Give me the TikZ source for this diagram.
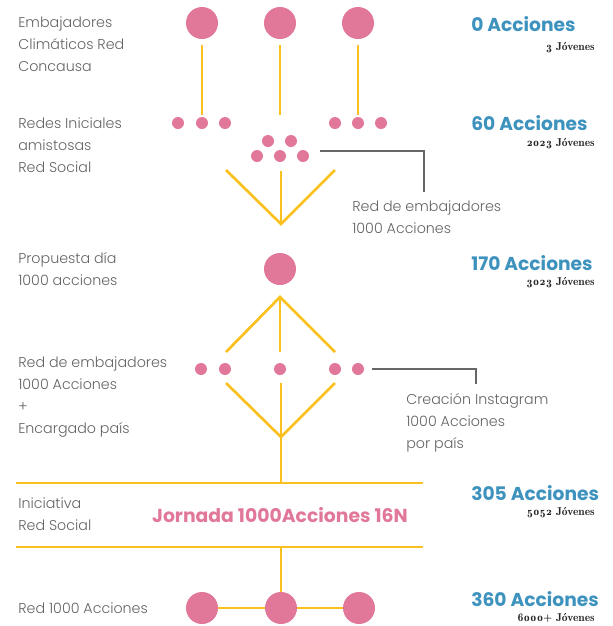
\documentclass[tikz,border=0pt]{standalone}
\usepackage{fontspec}
\newfontfamily\lightfont{Poppins}[UprightFont=* Light]
\newfontfamily\heavyfont{Poppins}[UprightFont=* Bold]
\newfontfamily\oldfont{lmromandemi10-regular.otf}[Numbers=OldStyle]
\usetikzlibrary{positioning}
\usetikzlibrary{calc}

\definecolor{dotpink}{RGB}{225,119,153}
\definecolor{lineyellow}{RGB}{250,192,30}
\definecolor{countblue}{RGB}{62,146,190}
\definecolor{textgray}{RGB}{100,100,100}

\begin{document}
\begin{tikzpicture}[
  x=0.75pt, y=-0.75pt,
  bigdot/.style={circle, fill=dotpink, minimum size=24pt, inner sep=0pt},
  smalldot/.style={circle, fill=dotpink, minimum size=9pt, inner sep=0pt},
  yline/.style={draw=lineyellow, line width=2pt},
  gline/.style={draw=black!60, line width=0.8pt},
  stage/.style={font=\lightfont\fontsize{10.7}{16.5}\selectfont, text=textgray, anchor=west, align=left, inner sep=0pt},
  count/.style={font=\heavyfont\fontsize{14}{16}\selectfont, text=countblue, anchor=west, inner sep=0pt},
  people/.style={font=\oldfont\fontsize{8.6}{10}\selectfont, text=black!85, anchor=east, inner sep=0pt}
]
\useasboundingbox (0,0) rectangle (613,626);

% Left side stages
\node[stage] (s1) at (18, 44) {Embajadores\\Climáticos Red\\Concausa};
\node[stage] (s2) at (18, 145) {Redes Iniciales\\amistosas\\Red Social};
\node[stage] (s3) at (18, 269) {Propuesta día\\1000 acciones};
\node[stage] (s4) at (18, 397) {Red de embajadores\\1000 Acciones\\+\\Encargado país};
\node[stage] (s5) at (18, 514) {Iniciativa\\Red Social};
\node[stage] (s6) at (18, 608) {Red 1000 Acciones};

% Right side counts
\node[count] (n1) at (471, 24) {0 Acciones};
\node[count] (n2) at (471, 123) {60 Acciones};
\node[count] (n3) at (471, 263) {170 Acciones};
\node[count] (n4) at (471, 493) {305 Acciones};
\node[count] (n5) at (471, 599) {360 Acciones};
\node[people] (j1) at (595, 48) {3 Jóvenes};
\node[people] (j2) at (595, 144) {2023 Jóvenes};
\node[people] (j3) at (595, 283) {3023 Jóvenes};
\node[people] (j4) at (595, 513) {5052 Jóvenes};
\node[people] (j5) at (595, 618) {6000+ Jóvenes};

% Embajadores
\node[bigdot] (topl) at (202, 23) {};
\node[bigdot] (topm) at (280, 23) {};
\node[bigdot] (topr) at (358, 23) {};

% Redes iniciales
\node[smalldot] (dl1) at (178, 123) {};
\node[smalldot] (dl2) at (202, 123) {};
\node[smalldot] (dl3) at (225, 123) {};
\node[smalldot] (dr1) at (335, 123) {};
\node[smalldot] (dr2) at (358, 123) {};
\node[smalldot] (dr3) at (381, 123) {};
\node[smalldot] (cu1) at (268, 141) {};
\node[smalldot] (cu2) at (291, 141) {};
\node[smalldot] (cl1) at (257, 156) {};
\node[smalldot] (cl2) at (280, 156) {};
\node[smalldot] (cl3) at (303, 156) {};
\coordinate (midend) at (280, 115);

\draw[yline, shorten <=4.5pt, shorten >=1.5pt] (topl) -- (dl2);
\draw[yline, shorten <=4.5pt] (topm) -- (midend);
\draw[yline, shorten <=4.5pt, shorten >=1.5pt] (topr) -- (dr2);

% Red de embajadores (V)
\coordinate (va) at (226, 170);
\coordinate (vb) at (281, 171);
\coordinate (vc) at (335, 170);
\coordinate (vtip) at (281, 224);
\draw[yline] (va) -- (vtip) -- (vc);
\draw[yline] (vb) -- (vtip);

\node[stage] (emb) at (352, 217) {Red de embajadores\\1000 Acciones};
\coordinate (g1) at (320, 151);
\coordinate (g1end) at (424, 192);
\draw[gline] (g1) -| (g1end);

% Propuesta
\node[bigdot] (prop) at (280, 269) {};
\coordinate (apex) at (280, 297);
\coordinate (la) at (226, 352);
\coordinate (lb) at (280, 352);
\coordinate (lc) at (335, 352);
\draw[yline] (la) -- (apex) -- (lc);
\draw[yline] (apex) -- (lb);

\node[smalldot] (e1) at (201, 369) {};
\node[smalldot] (e2) at (225, 369) {};
\node[smalldot] (e3) at (280, 369) {};
\node[smalldot] (e4) at (335, 369) {};
\node[smalldot] (e5) at (358, 369) {};

\coordinate (ua) at (226, 383);
\coordinate (ub) at (281, 383);
\coordinate (uc) at (335, 383);
\coordinate (utip) at (281, 437);
\draw[yline] (ua) -- (utip) -- (uc);
\draw[yline] (ub) -- (utip);

\node[stage] (insta) at (406, 423) {Creación Instagram\\1000 Acciones\\por país};
\coordinate (g2) at (372, 369);
\coordinate (g2end) at (476, 384);
\draw[gline] (g2) -| (g2end);

% Jornada
\coordinate (h1w) at (16, 483);
\coordinate (h1m) at (281, 483);
\coordinate (h1e) at (423, 483);
\coordinate (h2w) at (16, 547);
\coordinate (h2m) at (281, 547);
\coordinate (h2e) at (423, 547);
\draw[yline] (utip) -- (h1m);
\draw[yline] (h1w) -- (h1e);
\draw[yline] (h2w) -- (h2e);
\node[font=\heavyfont\fontsize{14.1}{17}\selectfont, text=dotpink, inner sep=0pt] (jornada) at (280, 515) {Jornada 1000Acciones 16N};

% Red 1000 Acciones
\node[bigdot] (bl) at (202, 608) {};
\node[bigdot] (bm) at (281, 608) {};
\node[bigdot] (br) at (359, 608) {};
\draw[yline] (h2m) -- (bm);
\draw[yline] (bl) -- (bm) -- (br);

\end{tikzpicture}
\end{document}
